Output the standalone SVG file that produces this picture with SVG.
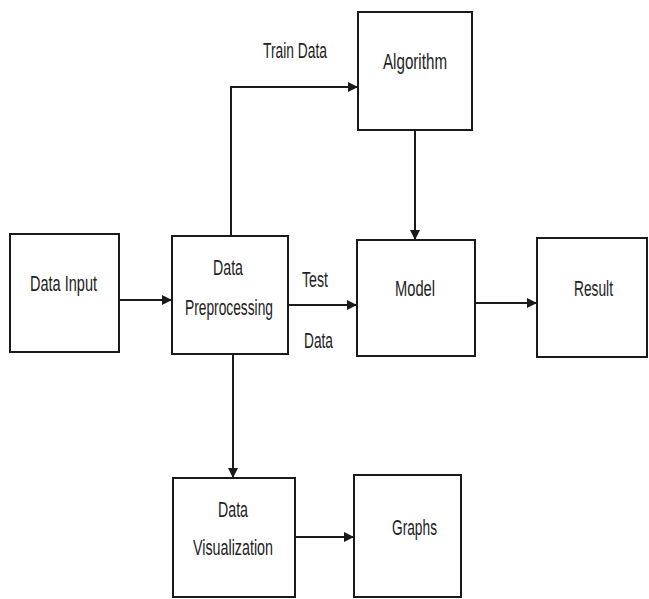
<svg xmlns="http://www.w3.org/2000/svg" width="649" height="599" viewBox="0 0 649 599">
<style>
.box{fill:#fff;stroke:#1a1a1a;stroke-width:2}
.t{font-family:"Liberation Sans Narrow","Liberation Sans",Arial,sans-serif;font-size:22px;fill:#222}
.c{fill:none;stroke:#1a1a1a;stroke-width:2}
</style>
<defs>
<marker id="ah" markerWidth="10" markerHeight="10" refX="9" refY="5" orient="auto" markerUnits="userSpaceOnUse">
<path d="M0,0 L10,5 L0,10 Z" fill="#1a1a1a"/>
</marker>
</defs>
<rect width="649" height="599" fill="#fff"/>
<g id="connectors">
<line class="c" x1="119" y1="300" x2="171" y2="300" marker-end="url(#ah)"/>
<polyline class="c" points="231,236 231,87 357,87" marker-end="url(#ah)"/>
<line class="c" x1="288" y1="305" x2="356" y2="305" marker-end="url(#ah)"/>
<line class="c" x1="415" y1="130" x2="415" y2="239" marker-end="url(#ah)"/>
<line class="c" x1="475" y1="303" x2="536" y2="303" marker-end="url(#ah)"/>
<line class="c" x1="233" y1="354" x2="233" y2="477" marker-end="url(#ah)"/>
<line class="c" x1="295" y1="537" x2="353" y2="537" marker-end="url(#ah)"/>
<text class="t" x="263" y="58" textLength="64" lengthAdjust="spacingAndGlyphs">Train Data</text>
<text class="t" x="302" y="287" textLength="26" lengthAdjust="spacingAndGlyphs">Test</text>
<text class="t" x="304" y="348" textLength="29" lengthAdjust="spacingAndGlyphs">Data</text>
</g>
<g id="data-input">
<rect class="box" x="10" y="234" width="109" height="118"/>
<text class="t" x="30" y="291" textLength="67" lengthAdjust="spacingAndGlyphs">Data Input</text>
</g>
<g id="data-preprocessing">
<rect class="box" x="172" y="236" width="116" height="118"/>
<text class="t" x="213" y="275" textLength="30" lengthAdjust="spacingAndGlyphs">Data</text>
<text class="t" x="185" y="315" textLength="88" lengthAdjust="spacingAndGlyphs">Preprocessing</text>
</g>
<g id="algorithm">
<rect class="box" x="358" y="12" width="114" height="118"/>
<text class="t" x="383" y="69" textLength="64" lengthAdjust="spacingAndGlyphs">Algorithm</text>
</g>
<g id="model">
<rect class="box" x="357" y="240" width="118" height="116"/>
<text class="t" x="395" y="296" textLength="40" lengthAdjust="spacingAndGlyphs">Model</text>
</g>
<g id="result">
<rect class="box" x="537" y="238" width="110" height="119"/>
<text class="t" x="574" y="296" textLength="39" lengthAdjust="spacingAndGlyphs">Result</text>
</g>
<g id="data-visualization">
<rect class="box" x="173" y="478" width="122" height="119"/>
<text class="t" x="218" y="517" textLength="30" lengthAdjust="spacingAndGlyphs">Data</text>
<text class="t" x="193" y="555" textLength="80" lengthAdjust="spacingAndGlyphs">Visualization</text>
</g>
<g id="graphs">
<rect class="box" x="354" y="475" width="107" height="122"/>
<text class="t" x="392" y="535" textLength="45" lengthAdjust="spacingAndGlyphs">Graphs</text>
</g>
</svg>
